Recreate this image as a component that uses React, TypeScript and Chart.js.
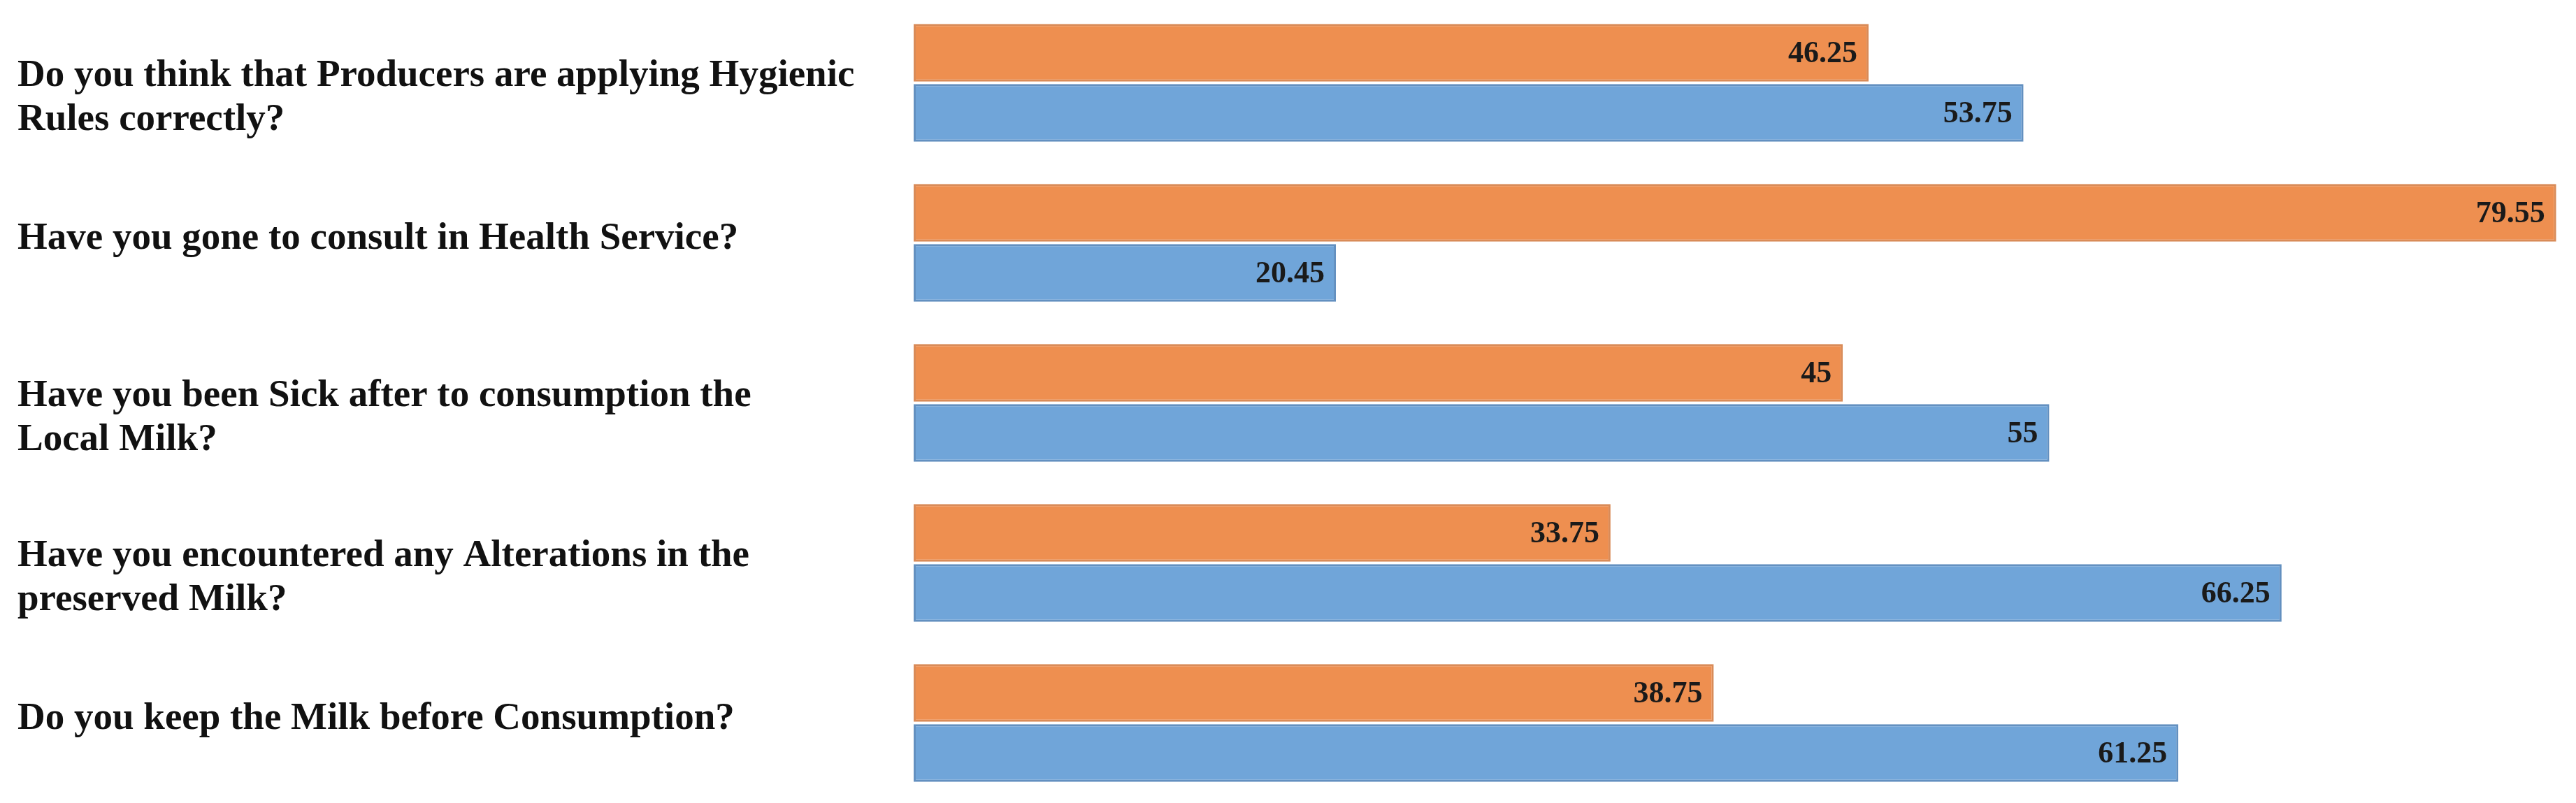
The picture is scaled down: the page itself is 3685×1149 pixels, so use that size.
import React, { useEffect, useRef } from "react";
import { Chart, registerables } from "chart.js";

Chart.register(...registerables);

const categories: string[][] = [
  ["Do you think that Producers are applying Hygienic", "Rules correctly?"],
  ["Have you gone to consult in Health Service?"],
  ["Have you been Sick after to consumption the", "Local Milk?"],
  ["Have you encountered any Alterations in the", "preserved Milk?"],
  ["Do you keep the Milk before Consumption?"],
];

const orangeSeries: number[] = [46.25, 79.55, 45, 33.75, 38.75];
const blueSeries: number[] = [53.75, 20.45, 55, 66.25, 61.25];

const LABEL_FONT = "bold 55px 'Liberation Serif', serif";
const LABEL_LINE_HEIGHT = 63;

const valueLabelPlugin = {
  id: "valueLabels",
  afterDatasetsDraw(chart: any) {
    const ctx = chart.ctx;
    ctx.save();
    ctx.font = "bold 44px 'Liberation Serif', serif";
    ctx.fillStyle = "#1a1a1a";
    ctx.textAlign = "right";
    ctx.textBaseline = "middle";
    chart.data.datasets.forEach((ds: any, di: number) => {
      const meta = chart.getDatasetMeta(di);
      meta.data.forEach((bar: any, i: number) => {
        const v = ds.data[i];
        ctx.fillText(String(v), bar.x - 16, bar.y + 2);
      });
    });
    ctx.restore();
  },
};

const categoryLabelPlugin = {
  id: "categoryLabels",
  afterDraw(chart: any) {
    const ctx = chart.ctx;
    const yScale = chart.scales.y;
    ctx.save();
    ctx.font = LABEL_FONT;
    ctx.fillStyle = "#111111";
    ctx.textAlign = "left";
    ctx.textBaseline = "middle";
    const left = chart.chartArea.left - yScale.width;
    (chart.data.labels as string[][]).forEach((lines, i) => {
      const center = yScale.getPixelForValue(i);
      const n = lines.length;
      const shift = n > 1 ? 22 : -6;
      lines.forEach((line, k) => {
        const y = center + (k - (n - 1) / 2) * LABEL_LINE_HEIGHT + shift;
        ctx.fillText(line, left, y);
      });
    });
    ctx.restore();
  },
};

export default function App() {
  const canvasRef = useRef<HTMLCanvasElement | null>(null);

  useEffect(() => {
    document.body.style.margin = "0";
    const canvas = canvasRef.current;
    if (!canvas) return;
    const chart = new Chart(canvas, {
      type: "bar",
      data: {
        labels: categories,
        datasets: [
          {
            label: "Series 1",
            data: orangeSeries,
            backgroundColor: "#EE8F50",
            borderColor: "#D98B58",
            borderWidth: 3,
            borderSkipped: false,
            barPercentage: 0.96,
            categoryPercentage: 0.75,
          },
          {
            label: "Series 2",
            data: blueSeries,
            backgroundColor: "#70A5D9",
            borderColor: "#6390C0",
            borderWidth: 3,
            borderSkipped: false,
            barPercentage: 0.96,
            categoryPercentage: 0.75,
          },
        ],
      },
      options: {
        indexAxis: "y",
        animation: false,
        responsive: true,
        maintainAspectRatio: false,
        layout: { padding: { left: 25, right: 15, top: 4, bottom: 0 } },
        plugins: {
          legend: { display: false },
          tooltip: { enabled: false },
        },
        scales: {
          x: {
            display: false,
            min: 0,
            max: 80,
          },
          y: {
            grid: { display: false },
            border: { display: false },
            ticks: {
              display: false,
            },
            afterFit(scale: any) {
              scale.width = 1282;
              scale.paddingTop = 0;
              scale.paddingBottom = 0;
            },
          },
        },
      },
      plugins: [valueLabelPlugin, categoryLabelPlugin],
    } as any);
    return () => chart.destroy();
  }, []);

  return (
    <div style={{ width: 3685, height: 1149, position: "relative", background: "#fff" }}>
      <canvas ref={canvasRef} />
    </div>
  );
}
